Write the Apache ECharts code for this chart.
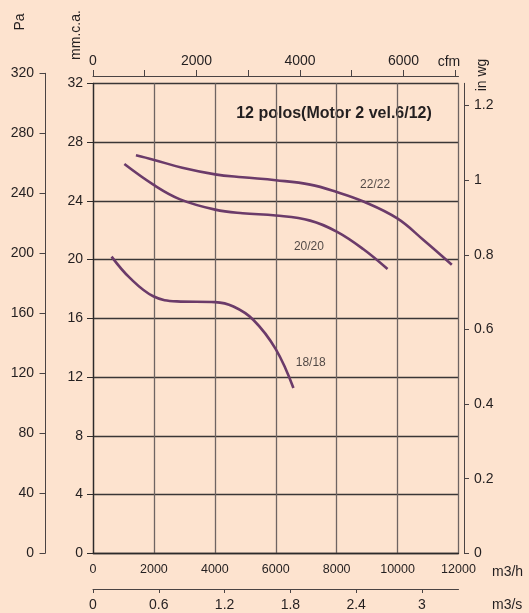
<!DOCTYPE html>
<html>
<head>
<meta charset="utf-8">
<script src="https://cdn.jsdelivr.net/npm/echarts@6/dist/echarts.min.js"></script>
<style>
html,body{margin:0;padding:0;background:#fde3cf;}
#c{width:529px;height:613px;}
</style>
</head>
<body>
<div id="c"></div>
<script>
// Data (x: m3/h, y: mm.c.a.)
const curve22 = [[1410,27.1],[1980,26.8],[2930,26.25],[4010,25.8],[4910,25.6],[6000,25.4],[7130,25.1],[8000,24.6],[8880,23.95],[9990,22.8],[10840,21.35],[11780,19.65]];
const curve20 = [[1030,26.5],[1980,25.1],[2860,24.1],[4010,23.4],[4910,23.15],[6000,23.0],[7130,22.65],[8000,21.9],[8880,20.7],[9670,19.35]];
const curve18 = [[610,20.2],[1210,18.75],[1980,17.5],[2750,17.15],[4010,17.1],[4610,16.8],[5260,15.9],[6000,13.9],[6580,11.25]];
const curveNames = ['22/22','20/20','18/18'];
const curveLabelPos = [[9260,25.1],[7090,20.9],[7150,12.95]];
const titleText = '12 polos(Motor 2 vel.6/12)';

const M3H_MAX = 12000, MM_MAX = 32;
const CFM_MAX = M3H_MAX / 1.699;
const M3S_MAX = M3H_MAX / 3600;
const INWG_MAX = MM_MAX / 25.4;
const PA_MAX = 320;

const FONT = 'Liberation Sans, Arial, sans-serif';
const txt = '#231f20';
const lineCol = '#6b3b6a';
const axisCol = '#4a4343';

const chart = echarts.init(document.getElementById('c'));
const baseLabel = {color: txt, fontFamily: FONT, fontSize: 14};
const plain = v => String(Math.round(v * 10) / 10);

const option = {
  backgroundColor: '#fde3cf',
  animation: false,
  grid: [
    {left: 93, top: 83.3, width: 365.5, height: 470},
    {left: 45, top: 73.3, width: 10, height: 480}
  ],
  xAxis: [
    {gridIndex: 0, type: 'value', min: 0, max: M3H_MAX, interval: 2000, position: 'bottom',
     axisLine: {show: true, onZero: false, lineStyle: {color: '#2d2a2a', width: 1.3}},
     axisTick: {show: false},
     axisLabel: Object.assign({}, baseLabel, {margin: 10, fontSize: 12.5, showMaxLabel: true, formatter: plain}),
     splitLine: {show: true, lineStyle: {color: '#6e6462', width: 1.3}}},
    {gridIndex: 0, type: 'value', min: 0, max: CFM_MAX, interval: 1000, position: 'top', offset: 7.3,
     axisLine: {show: true, onZero: false, lineStyle: {color: axisCol, width: 1}},
     axisTick: {show: true, inside: false, length: 6, lineStyle: {color: axisCol}},
     axisLabel: Object.assign({}, baseLabel, {margin: 8, showMaxLabel: false,
       formatter: v => (Math.round(v) % 2000 === 0 ? String(Math.round(v)) : '')}),
     splitLine: {show: false}},
    {gridIndex: 0, type: 'value', min: 0, max: M3S_MAX, interval: 0.6, position: 'bottom', offset: 35.7,
     axisLine: {show: true, onZero: false, lineStyle: {color: axisCol, width: 1}},
     axisTick: {show: true, length: 4, lineStyle: {color: axisCol}},
     axisLabel: Object.assign({}, baseLabel, {margin: 9, showMaxLabel: false, formatter: plain}),
     splitLine: {show: false}},
    {gridIndex: 1, type: 'value', show: false, min: 0, max: 1}
  ],
  yAxis: [
    {gridIndex: 0, type: 'value', min: 0, max: MM_MAX, interval: 4, position: 'left',
     axisLine: {show: true, onZero: false, lineStyle: {color: '#2d2a2a', width: 1.3}},
     axisTick: {show: true, length: 6, lineStyle: {color: '#2d2a2a'}},
     axisLabel: Object.assign({}, baseLabel, {margin: 10, formatter: plain}),
     splitLine: {show: true, lineStyle: {color: '#3a3636', width: 1.3}}},
    {gridIndex: 0, type: 'value', min: 0, max: INWG_MAX, interval: 0.2, position: 'right', offset: 5.5,
     axisLine: {show: true, onZero: false, lineStyle: {color: axisCol, width: 1}},
     axisTick: {show: true, length: 5, lineStyle: {color: axisCol}},
     axisLabel: Object.assign({}, baseLabel, {margin: 10, showMaxLabel: false, formatter: plain}),
     splitLine: {show: false}},
    {gridIndex: 1, type: 'value', min: 0, max: PA_MAX, interval: 40, position: 'left',
     axisLine: {show: true, onZero: false, lineStyle: {color: axisCol, width: 1}},
     axisTick: {show: true, length: 5.5, lineStyle: {color: axisCol}},
     axisLabel: Object.assign({}, baseLabel, {margin: 11, formatter: plain}),
     splitLine: {show: false}}
  ],
  series: [
    {type: 'line', name: curveNames[0], xAxisIndex: 0, yAxisIndex: 0, data: curve22, smooth: 0.4, showSymbol: false, symbol: 'none',
     lineStyle: {color: lineCol, width: 2.6}},
    {type: 'line', name: curveNames[1], xAxisIndex: 0, yAxisIndex: 0, data: curve20, smooth: 0.4, showSymbol: false, symbol: 'none',
     lineStyle: {color: lineCol, width: 2.6}},
    {type: 'line', name: curveNames[2], xAxisIndex: 0, yAxisIndex: 0, data: curve18, smooth: 0.4, showSymbol: false, symbol: 'none',
     lineStyle: {color: lineCol, width: 2.6}},
    {type: 'scatter', xAxisIndex: 0, yAxisIndex: 0, symbolSize: 0, silent: true,
     data: curveLabelPos.map((p, i) => ({value: p, name: curveNames[i]})),
     label: {show: true, position: 'inside', formatter: p => p.name, color: txt, fontFamily: FONT, fontSize: 12}}
  ],
  graphic: [
    {type: 'text', x: 334, y: 114, style: {text: titleText, fill: txt, font: 'bold 16px ' + FONT, textAlign: 'center', textVerticalAlign: 'middle'}},
    {type: 'text', x: 20, y: 22, rotation: Math.PI / 2, style: {text: 'Pa', fill: txt, font: '14px ' + FONT, textAlign: 'center', textVerticalAlign: 'middle'}},
    {type: 'text', x: 76, y: 35, rotation: Math.PI / 2, style: {text: 'mm.c.a.', fill: txt, font: '14px ' + FONT, textAlign: 'center', textVerticalAlign: 'middle'}},
    {type: 'text', x: 482, y: 75, rotation: Math.PI / 2, style: {text: 'in wg', fill: txt, font: '14px ' + FONT, textAlign: 'center', textVerticalAlign: 'middle'}},
    {type: 'text', x: 449, y: 62, style: {text: 'cfm', fill: txt, font: '14px ' + FONT, textAlign: 'center', textVerticalAlign: 'middle'}},
    {type: 'text', x: 492, y: 572, style: {text: 'm3/h', fill: txt, font: '14px ' + FONT, textAlign: 'left', textVerticalAlign: 'middle'}},
    {type: 'text', x: 492, y: 605, style: {text: 'm3/s', fill: txt, font: '14px ' + FONT, textAlign: 'left', textVerticalAlign: 'middle'}}
  ]
};
chart.setOption(option);
</script>
</body>
</html>
